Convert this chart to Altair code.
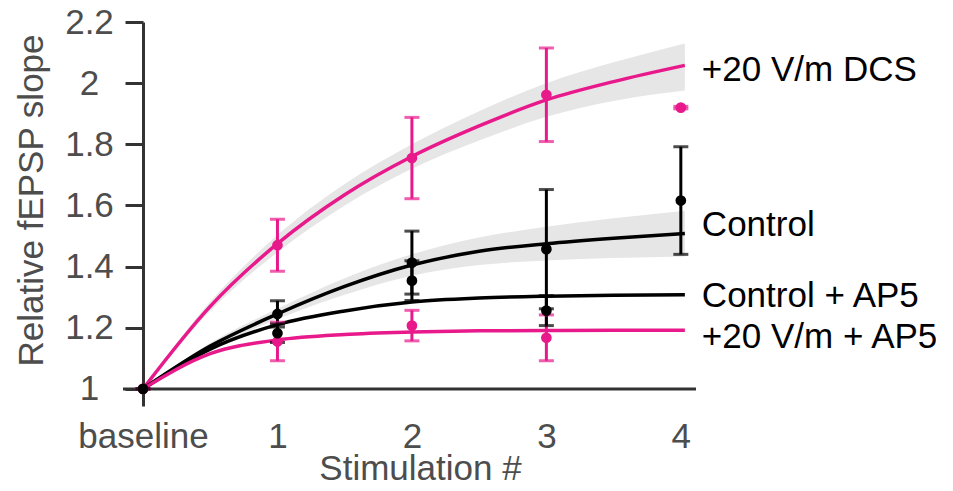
import altair as alt
import pandas as pd

# ---------------- data ----------------
series = ["+20 V/m DCS", "Control", "Control + AP5", "+20 V/m + AP5"]
PINK = "#E8198B"
colors = [PINK, "#000000", "#000000", PINK]

x_ticks = [0, 1, 2, 3, 4]
x_labels = ["baseline", "1", "2", "3", "4"]
y_ticks = [1.0, 1.1, 1.2, 1.3, 1.4, 1.5, 1.6, 1.7, 1.8, 1.9, 2.0, 2.1, 2.2]

# fitted curves
fit_x = [0, 0.5, 1, 1.5, 2, 2.5, 3, 3.5, 4.03]
fit_dcs = [1.0, 1.27, 1.475, 1.635, 1.76, 1.86, 1.945, 2.005, 2.058]
fit_ctrl = [1.0, 1.14, 1.245, 1.335, 1.405, 1.45, 1.475, 1.493, 1.508]
fit_ctrl_ap5 = [1.0, 1.13, 1.21, 1.255, 1.284, 1.297, 1.303, 1.306, 1.308]
fit_dcs_ap5 = [1.0, 1.115, 1.16, 1.178, 1.186, 1.19, 1.191, 1.192, 1.192]

# confidence bands around the fits
band_dcs_lo = [1.0, 1.255, 1.447, 1.6, 1.72, 1.812, 1.89, 1.942, 1.976]
band_dcs_hi = [1.0, 1.285, 1.503, 1.67, 1.8, 1.908, 2.0, 2.068, 2.13]
band_ctrl_lo = [1.0, 1.13, 1.228, 1.308, 1.37, 1.405, 1.42, 1.428, 1.433]
band_ctrl_hi = [1.0, 1.15, 1.262, 1.362, 1.44, 1.495, 1.53, 1.558, 1.583]

# measured points: mean and error
pt_x_full = [0, 1, 2, 3, 4]
pt_x_ap5 = [1, 2, 3]
dcs_mean = [1.0, 1.47, 1.755, 1.962, 1.92]
dcs_err = [0.0, 0.085, 0.133, 0.153, 0.004]
ctrl_mean = [1.0, 1.245, 1.413, 1.457, 1.616]
ctrl_err = [0.0, 0.043, 0.103, 0.195, 0.176]
ctrl_ap5_mean = [1.182, 1.354, 1.256]
ctrl_ap5_err = [0.03, 0.065, 0.049]
dcs_ap5_mean = [1.155, 1.207, 1.167]
dcs_ap5_err = [0.063, 0.05, 0.075]

# ---------------- tables ----------------
fits = pd.concat([
    pd.DataFrame({"series": s, "x": fit_x, "y": ys})
    for s, ys in zip(series, [fit_dcs, fit_ctrl, fit_ctrl_ap5, fit_dcs_ap5])
])
bands = pd.concat([
    pd.DataFrame({"series": s, "x": fit_x, "lo": lo, "hi": hi})
    for s, lo, hi in [(series[0], band_dcs_lo, band_dcs_hi),
                      (series[1], band_ctrl_lo, band_ctrl_hi)]
])
pts = pd.concat([
    pd.DataFrame({"series": s, "x": xs, "y": m,
                  "lo": [a - b for a, b in zip(m, e)],
                  "hi": [a + b for a, b in zip(m, e)]})
    for s, xs, m, e in [
        (series[3], pt_x_ap5, dcs_ap5_mean, dcs_ap5_err),
        (series[0], pt_x_full, dcs_mean, dcs_err),
        (series[2], pt_x_ap5, ctrl_ap5_mean, ctrl_ap5_err),
        (series[1], pt_x_full, ctrl_mean, ctrl_err),
    ]
])
ends = pd.DataFrame({
    "series": series,
    "x": [fit_x[-1]] * 4,
    "y": [fit_dcs[-1], fit_ctrl[-1], fit_ctrl_ap5[-1], fit_dcs_ap5[-1]],
})
label_dy = [5, -9, 1, 7]

# ---------------- styles ----------------
FONT = "Liberation Sans"
FS = 35
AXIS_GRAY = "#4D4D4D"
LINE_GRAY = "#333333"
W, H = 558, 384

xscale = alt.Scale(domain=[0, 4.15], nice=False, zero=False)
yscale = alt.Scale(domain=[0.944, 2.2], nice=False, zero=False)
cscale = alt.Scale(domain=series, range=colors)

labels_js = "[" + ",".join("'" + s + "'" for s in x_labels) + "]"

x_axis = alt.Axis(
    values=x_ticks, labelExpr=labels_js + "[datum.value]",
    ticks=False, domain=False, grid=False,
    labelPadding=13, labelFontSize=FS, labelFont=FONT, labelColor=AXIS_GRAY,
    labelFlush=False, labelOverlap=False,
    title="Stimulation #", titleFont=FONT, titleFontSize=FS, titleFontWeight="normal",
    titleColor=AXIS_GRAY, titleX=277, titleY=62, titleBaseline="middle",
)
y_axis = alt.Axis(
    values=y_ticks,
    labelExpr="round(datum.value*10) % 2 == 0 ? format(datum.value, '~g') : ''",
    tickSize={"condition": {"test": "round(datum.value*10) % 2 == 0", "value": 18}, "value": 9},
    tickWidth=3, tickColor=LINE_GRAY, domainWidth=3, domainColor=LINE_GRAY,
    grid=False, labelAlign="center", labelBaseline="middle", labelPadding=36,
    labelFontSize=FS, labelFont=FONT, labelColor=AXIS_GRAY,
    labelFlush=False, labelOverlap=False,
    title="Relative fEPSP slope", titleFont=FONT, titleFontSize=FS,
    titleFontWeight="normal", titleColor=AXIS_GRAY,
    titleX=-112, titleY=178, titleBaseline="middle",
)

X = alt.X("x:Q", scale=xscale, axis=x_axis)
Y = alt.Y("y:Q", scale=yscale, axis=y_axis)
C = alt.Color("series:N", scale=cscale, legend=None)

band_layer = alt.Chart(bands).mark_area(interpolate="monotone", color="#E6E6E6").encode(
    x=alt.X("x:Q", scale=xscale), y=alt.Y("lo:Q", scale=yscale), y2="hi:Q", detail="series:N"
)
line_layer = alt.Chart(fits).mark_line(interpolate="monotone", strokeWidth=3.5).encode(
    x=X, y=Y, color=C
)
err_layer = alt.Chart(pts).mark_rule(strokeWidth=3).encode(
    x=alt.X("x:Q", scale=xscale), y=alt.Y("lo:Q", scale=yscale), y2="hi:Q", color=C
)
cap_lo = alt.Chart(pts).mark_tick(orient="horizontal", size=15, thickness=3).encode(
    x=alt.X("x:Q", scale=xscale), y=alt.Y("lo:Q", scale=yscale), color=C
)
cap_hi = alt.Chart(pts).mark_tick(orient="horizontal", size=15, thickness=3).encode(
    x=alt.X("x:Q", scale=xscale), y=alt.Y("hi:Q", scale=yscale), color=C
)
pt_layer = alt.Chart(pts).mark_point(filled=True, size=115, opacity=1).encode(
    x=alt.X("x:Q", scale=xscale), y=alt.Y("y:Q", scale=yscale), color=C
)
xline = alt.Chart(pd.DataFrame({"v": [1.0]})).mark_rule(color=LINE_GRAY, strokeWidth=3).encode(
    x=alt.value(-20), x2=alt.value(553), y=alt.Y("v:Q", scale=yscale)
)

text_layers = []
for i, s in enumerate(series):
    text_layers.append(
        alt.Chart(ends[ends["series"] == s]).mark_text(
            align="left", baseline="middle", dx=17, dy=label_dy[i],
            font=FONT, fontSize=FS, color="#000000"
        ).encode(x=alt.X("x:Q", scale=xscale), y=alt.Y("y:Q", scale=yscale), text="series:N")
    )

chart = alt.layer(
    band_layer, line_layer, xline, err_layer, cap_lo, cap_hi, pt_layer, *text_layers
).properties(
    width=W, height=H,
    autosize=alt.AutoSizeParams(type="none"),
    padding={"left": 135, "top": 14, "right": 235, "bottom": 80},
    background="white",
).configure_view(stroke=None)

chart.save("out.html", embed_options={"renderer": "svg", "actions": False})
